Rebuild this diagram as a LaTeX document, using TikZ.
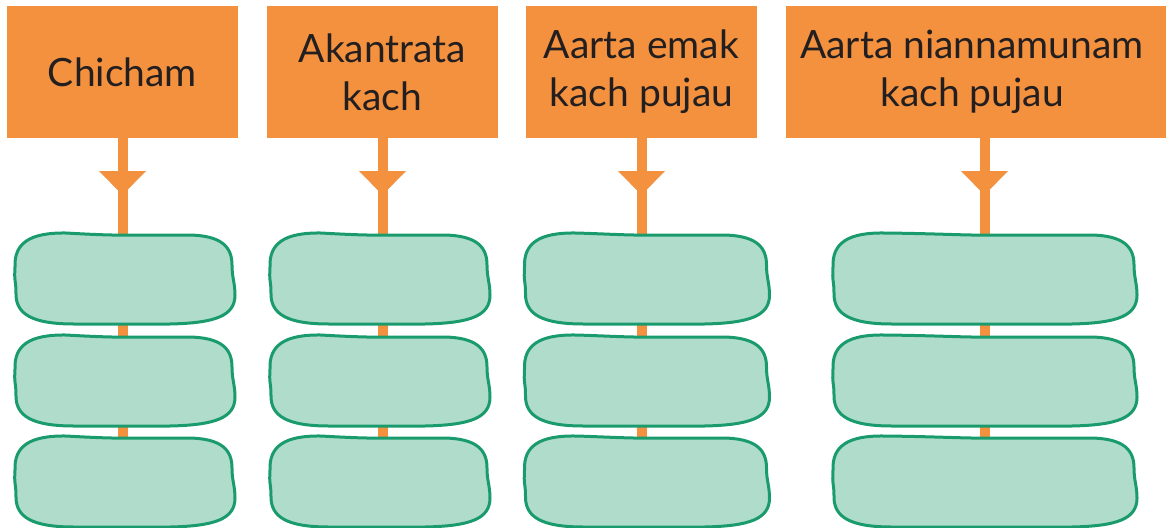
\documentclass[tikz,border=0pt]{standalone}
\usepackage{fontspec}
\setmainfont{Lato}
\usetikzlibrary{calc}
\definecolor{cOrange}{HTML}{F4913E}
\definecolor{cGfill}{HTML}{B0DCCB}
\definecolor{cGline}{HTML}{1A9B6E}
\definecolor{cInk}{HTML}{231F20}
\tikzset{
  headbox/.style={fill=cOrange, inner sep=0pt, outer sep=0pt, minimum height=132pt,
    text=cInk, font=\fontsize{39}{48}\selectfont, align=center},
  gnode/.style={inner sep=0pt, outer sep=0pt, minimum height=91pt},
  gshape/.style={fill=cGfill, draw=cGline, line width=3pt, line join=round},
  conn/.style={draw=cOrange, line width=10pt},
  tiphead/.style={fill=cOrange},
}
\newcommand\wobbly[1]{%
  \path[gshape] let \p1=(#1.north west), \p2=(#1.south east),
      \p3=($(#1.north west)!0.5!(#1.north east)$) in
    (\x1+1pt,\y1-34pt)
    .. controls (\x1,\y1-10pt) and (\x1+16pt,\y1+0.5pt) .. (\x1+52pt,\y1)
    .. controls (\x3-50pt,\y1-0.5pt) and (\x3-15pt,\y1-2.5pt) .. (\x3,\y1-2pt)
    -- (\x2-48pt,\y1-2pt)
    .. controls (\x2-12pt,\y1-2pt) and (\x2-3pt,\y1-15pt) .. (\x2-3pt,\y1-32pt)
    .. controls (\x2-3pt,\y1-45pt) and (\x2,\y1-50pt) .. (\x2,\y1-62pt)
    .. controls (\x2,\y2+8pt) and (\x2-20pt,\y2+1pt) .. (\x2-65pt,\y2)
    -- (\x1+60pt,\y2)
    .. controls (\x1+18pt,\y2) and (\x1+2pt,\y2+10pt) .. (\x1+2pt,\y2+30pt)
    .. controls (\x1+2pt,\y2+45pt) and (\x1,\y1-50pt) .. (\x1+1pt,\y1-34pt)
    -- cycle;}
\begin{document}
\begin{tikzpicture}[x=1pt,y=-1pt]
\useasboundingbox (0,0) rectangle (1166,527);
% header boxes
\node[headbox, minimum width=231pt] (o1) at (122.5,72) {Chicham};
\node[headbox, minimum width=231pt] (o2) at (382.5,72) {Akantrata\\kach};
\node[headbox, minimum width=231pt] (o3) at (641.5,72) {Aarta emak\\kach pujau};
\node[headbox, minimum width=380pt] (o4) at (976,72) {Aarta niannamunam\hspace*{8pt}\\kach pujau\hspace*{8pt}};
% green boxes (anchors)
\foreach \c/\x/\w in {1/124.5/221, 2/379.5/221, 3/646.5/246, 4/984.5/305}{
  \foreach \r/\y in {1/278.5, 2/380.5, 3/481.5}{
    \node[gnode, minimum width=\w pt] (g\c\r) at (\x,\y) {};
  }
}
% connector start points
\coordinate (c1) at (o1.south);
\coordinate (c2) at (o2.south);
\coordinate (c3) at (o3.south);
\coordinate (c4) at (g41.north |- o4.south);
% connectors
\foreach \c in {1,2,3,4}{
  \draw[conn] (c\c) -- (c\c |- g\c3.center);
}
% green shapes
\foreach \c in {1,2,3,4}{
  \foreach \r in {1,2,3}{
    \wobbly{g\c\r}
  }
}
% arrow heads
\foreach \c in {1,2,3,4}{
  \fill[tiphead] ($(c\c)+(-23.5,33)$) -- ++(47,0) -- ++(-23.5,24) -- cycle;
}
\end{tikzpicture}
\end{document}
